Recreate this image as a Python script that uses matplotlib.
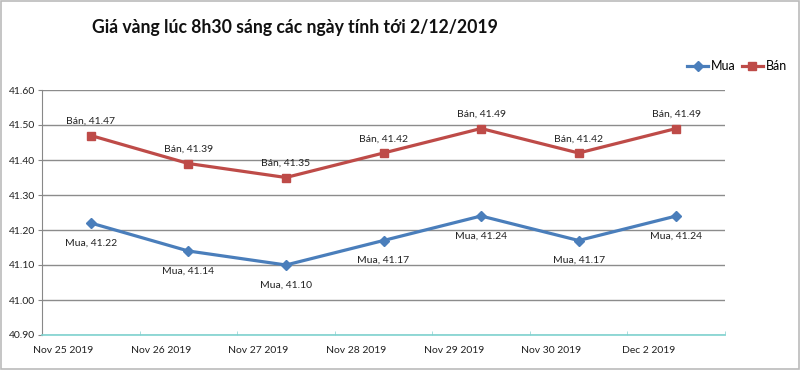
import matplotlib
matplotlib.use("Agg")
import matplotlib.pyplot as plt
from matplotlib.patches import Rectangle

plt.rcParams['font.family'] = ['Lato', 'DejaVu Sans']

dates = ["Nov 25 2019", "Nov 26 2019", "Nov 27 2019", "Nov 28 2019",
         "Nov 29 2019", "Nov 30 2019", "Dec 2 2019"]
mua = [41.22, 41.14, 41.10, 41.17, 41.24, 41.17, 41.24]
ban = [41.47, 41.39, 41.35, 41.42, 41.49, 41.42, 41.49]
yticks = [40.90, 41.00, 41.10, 41.20, 41.30, 41.40, 41.50, 41.60]
title = "Giá vàng lúc 8h30 sáng các ngày tính tới 2/12/2019"

blue = "#4a7ebb"
red = "#be4b48"

fig = plt.figure(figsize=(8, 3.7), dpi=100)
ax = fig.add_axes([42/800, 1-335/370, (725-42)/800, (335-90)/370])

xs = [i + 0.5 for i in range(len(dates))]
ax.plot(xs, mua, color=blue, lw=2.3, marker="D", ms=5, label="Mua", zorder=3)
ax.plot(xs, ban, color=red, lw=2.3, marker="s", ms=6, label="Bán", zorder=3)

for x, v in zip(xs, ban):
    ax.annotate(f"Bán, {v:.2f}", (x, v), xytext=(0, 14), textcoords="offset pixels",
                ha="center", va="center", fontsize=7.5, color="#222222")
for x, v in zip(xs, mua):
    ax.annotate(f"Mua, {v:.2f}", (x, v), xytext=(0, -20), textcoords="offset pixels",
                ha="center", va="center", fontsize=7.5, color="#222222")

ax.set_xlim(0, 7)
ax.set_ylim(40.90, 41.60)
ax.set_yticks(yticks)
ax.set_yticklabels([f"{t:.2f}" for t in yticks], fontsize=7.5, color="#222222")
ax.tick_params(axis="y", length=3, color="#888888", pad=2)
ax.yaxis.grid(True, color="#8c8c8c", lw=1)
ax.set_axisbelow(True)

ax.set_xticks([i + 0.22 for i in range(len(dates))])
ax.set_xticklabels(dates, fontsize=7.5, color="#222222")
ax.set_xticks(range(8), minor=True)
ax.tick_params(axis="x", which="major", length=0, pad=8)
ax.tick_params(axis="x", which="minor", length=3, color="#9ad8d8", direction="in")

for s in ["top", "right"]:
    ax.spines[s].set_visible(False)
ax.spines["left"].set_color("#888888")
ax.spines["bottom"].set_color("#7fd3d0")
ax.spines["bottom"].set_linewidth(1.2)

fig.text(92/800, 1-27/370, title, fontsize=12.7, fontweight="bold", ha="left", va="center", color="#111111")

fig.legend(loc="center right", bbox_to_anchor=(793/800, 1-66/370), ncol=2, frameon=False,
           fontsize=9, handlelength=1.7, columnspacing=0.5, handletextpad=0.2, borderpad=0)

fig.patches.append(Rectangle((0.001, 0.003), 0.998, 0.995, transform=fig.transFigure,
                             fill=False, edgecolor="#bbbbbb", lw=1.2))

fig.savefig("out.png", dpi=100)
